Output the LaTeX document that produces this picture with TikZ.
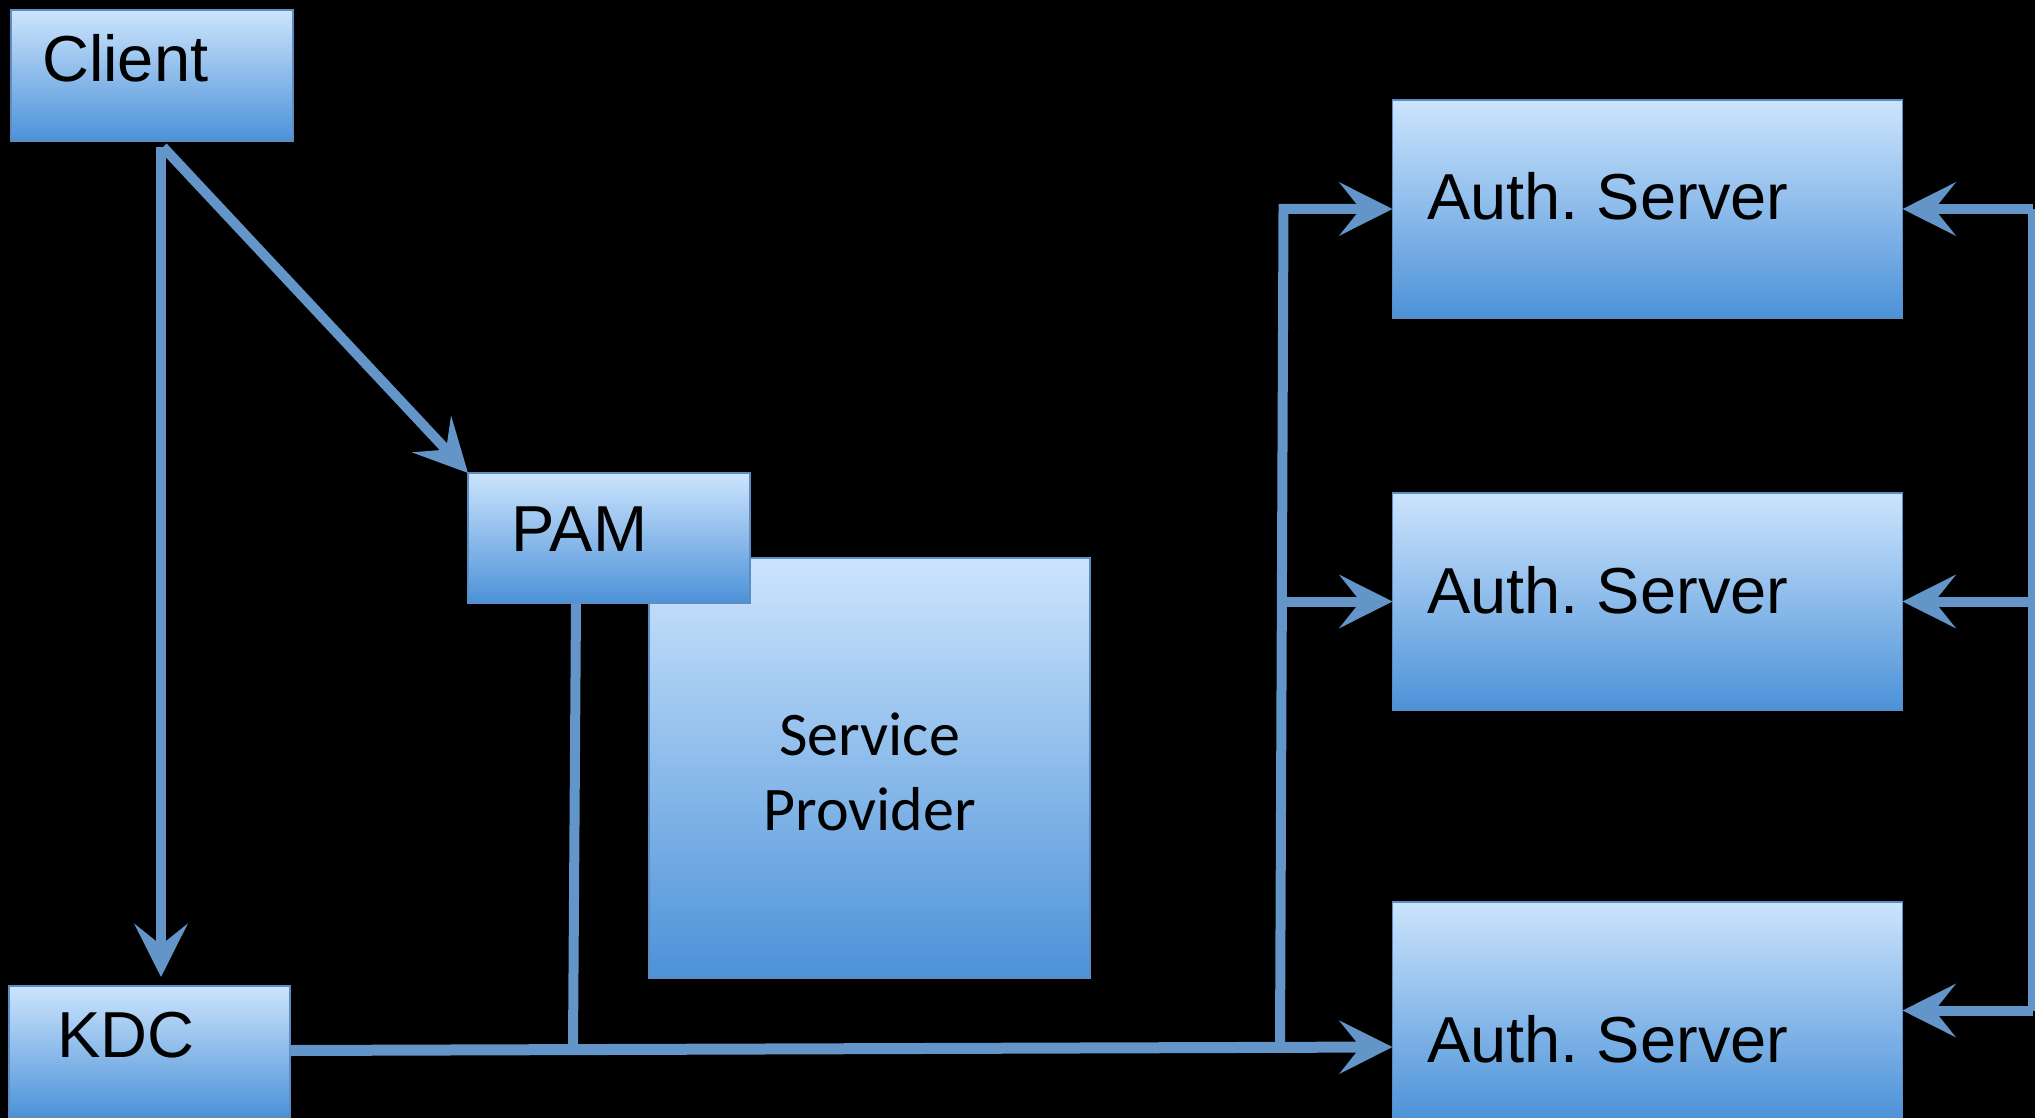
\documentclass[tikz,border=0pt]{standalone}
\usepackage{fontspec}
\setmainfont{Liberation Sans}
\newfontfamily\spfont{Carlito}
\usetikzlibrary{arrows.meta,calc}

\definecolor{boxtop}{RGB}{204,228,253}
\definecolor{boxbot}{RGB}{76,146,216}
\definecolor{boxline}{RGB}{92,140,194}
\definecolor{conncol}{RGB}{99,149,201}

\tikzset{
  box/.style={draw=boxline, line width=1.5pt, top color=boxtop, bottom color=boxbot,
    shape=rectangle, inner sep=0pt, outer sep=0pt},
  lbl/.style={anchor=base west, inner sep=0pt, font=\fontsize{65}{70}\selectfont},
  conn/.style={draw=conncol, line width=10pt, line join=miter},
  arr/.style={-{Stealth[length=53pt,width=53pt,inset=21pt]}},
}

\begin{document}
\frenchspacing
\begin{tikzpicture}[x=1pt,y=-1pt]
  % canvas
  \useasboundingbox (0,0) rectangle (2035,1118);
  \fill[black] (0,0) rectangle (2035,1118);

  \begin{scope}
  \clip (0,0) rectangle (2035,1118);

  % boxes
  \node[box, minimum width=282pt, minimum height=131pt] (client) at (152,75.5) {};
  \node[box, minimum width=441pt, minimum height=420pt] (sp) at (869.5,768) {};
  \node[box, minimum width=282pt, minimum height=130pt] (pam) at (609,538) {};
  \node[box, minimum width=281pt, minimum height=131pt] (kdc) at (149.5,1051.5) {};
  \node[box, minimum width=510pt, minimum height=218pt] (auth1) at (1647.5,209) {};
  \node[box, minimum width=510pt, minimum height=217pt] (auth2) at (1647.5,601.5) {};
  \node[box, minimum width=510pt, minimum height=217pt] (auth3) at (1647.5,1010.5) {};

  % box captions
  \node[align=center, inner sep=0pt, font=\spfont\fontsize{62}{75}\selectfont]
        (tsp) at ([yshift=-4pt]sp.center) {Service\\Provider};
  \node[lbl] (tclient) at (42,82) {Client};
  \node[lbl] (tpam) at (511,551) {PAM};
  \node[lbl] (tkdc) at (57,1057) {KDC};
  \node[lbl] (tauth1) at (1427,220) {Auth. Server};
  \node[lbl] (tauth2) at (1427,613) {Auth. Server};
  \node[lbl] (tauth3) at (1427,1062) {Auth. Server};

  % client fans out to the KDC and to PAM
  \draw[conn,arr] ([xshift=150pt,yshift=-6pt]client.south west) -- ([xshift=152pt,yshift=9pt]kdc.north west);
  \draw[conn,arr] ([xshift=152pt,yshift=-6pt]client.south west) -- (pam.north west);

  % KDC trunk to the last server
  \draw[conn,line width=11pt,arr] ([yshift=1pt]kdc.east) -- ([yshift=-36.5pt]auth3.west);

  % PAM drop onto the trunk
  \coordinate (pamjoin) at (573,1046);
  \draw[conn] ([xshift=108pt]pam.south west) -- (pamjoin);

  % left riser feeding the upper servers
  \coordinate (riserfoot) at (1280,1046);
  \draw[conn,arr] (riserfoot) -- ([xshift=-109pt]auth1.west) -- (auth1.west);
  \draw[conn,arr] ([xshift=-111pt]auth2.west) -- (auth2.west);

  % right return bus
  \draw[conn] ([xshift=130pt]auth1.east) -- ([xshift=130pt]auth3.east);
  \draw[conn,arr] ([xshift=130pt]auth1.east) -- (auth1.east);
  \draw[conn,arr] ([xshift=130pt]auth2.east) -- (auth2.east);
  \draw[conn,arr] ([xshift=130pt]auth3.east) -- (auth3.east);
  \end{scope}
\end{tikzpicture}
\end{document}
